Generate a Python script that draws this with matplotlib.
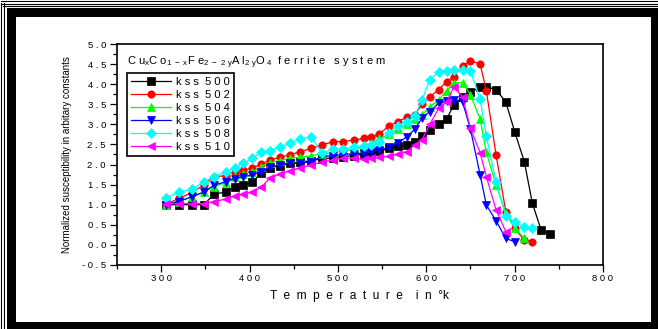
import matplotlib
matplotlib.use("Agg")
import matplotlib.pyplot as plt
from matplotlib.patches import Rectangle
from matplotlib.lines import Line2D
from matplotlib.ticker import MultipleLocator, FuncFormatter

plt.rcParams['font.family'] = ['Liberation Sans', 'DejaVu Sans']
plt.rcParams['mathtext.default'] = 'regular'

# temperature grid (K) shared by all samples
temp = [305, 320, 335, 348, 360, 373, 383, 393, 403, 413, 423, 434, 446, 457,
        470, 482, 495, 506, 518, 529, 538, 547, 558, 568, 578, 587, 595, 604,
        614, 623, 631, 641, 650, 661, 668, 679, 690, 700, 711, 720, 730, 740]

kss500 = [1.0, 1.0, 1.0, 1.0, 1.26, 1.32, 1.45, 1.49, 1.56, 1.78, 1.92, 1.97,
          2.03, 2.06, 2.10, 2.14, 2.17, 2.20, 2.22, 2.26, 2.30, 2.33, 2.40,
          2.46, 2.49, 2.57, 2.71, 2.86, 3.00, 3.13, 3.48, 3.69, 3.81, 3.92,
          3.94, 3.86, 3.56, 2.82, 2.07, 1.04, 0.37, 0.28]
kss502 = [1.0, 1.16, 1.30, 1.49, 1.70, 1.72, 1.82, 1.86, 1.91, 2.01, 2.11, 2.18,
          2.24, 2.32, 2.40, 2.49, 2.57, 2.57, 2.61, 2.65, 2.68, 2.76, 2.97,
          3.07, 3.18, 3.23, 3.50, 3.69, 3.86, 4.06, 4.19, 4.45, 4.58, 4.50,
          3.83, 2.24, 0.83, 0.41, 0.12, 0.08]
kss504 = [1.0, 1.08, 1.20, 1.32, 1.45, 1.55, 1.70, 1.76, 1.82, 1.95, 2.05, 2.10,
          2.16, 2.18, 2.22, 2.27, 2.30, 2.33, 2.38, 2.42, 2.53, 2.65, 2.75,
          2.88, 3.00, 3.13, 3.23, 3.44, 3.61, 3.84, 4.04, 4.04, 3.73, 3.13,
          2.30, 1.49, 0.80, 0.43, 0.16]
kss506 = [1.0, 1.08, 1.20, 1.31, 1.49, 1.57, 1.65, 1.70, 1.74, 1.82, 1.93, 1.99,
          2.03, 2.03, 2.07, 2.21, 2.21, 2.26, 2.26, 2.29, 2.32, 2.35, 2.44,
          2.54, 2.69, 2.88, 3.15, 3.32, 3.52, 3.59, 3.61, 3.56, 2.88, 1.74,
          0.99, 0.60, 0.16, 0.08]
kss508 = [1.16, 1.31, 1.38, 1.57, 1.70, 1.82, 1.91, 2.03, 2.16, 2.30, 2.34, 2.43,
          2.53, 2.64, 2.69, 2.28, 2.38, 2.38, 2.44, 2.46, 2.49, 2.57, 2.78,
          2.96, 3.07, 3.20, 3.60, 4.10, 4.31, 4.34, 4.35, 4.35, 4.34, 3.62,
          2.71, 1.56, 0.72, 0.57, 0.44, 0.41]
kss510 = [1.02, 1.03, 1.03, 1.03, 1.08, 1.14, 1.22, 1.26, 1.32, 1.43, 1.66, 1.76,
          1.85, 1.91, 1.99, 2.07, 2.11, 2.16, 2.16, 2.13, 2.16, 2.18, 2.21,
          2.25, 2.32, 2.49, 2.61, 3.00, 3.40, 3.56, 3.92, 3.69, 2.90, 2.29,
          1.70, 0.87, 0.33]

labels = ['k s s  5 0 0', 'k s s  5 0 2', 'k s s  5 0 4',
          'k s s  5 0 6', 'k s s  5 0 8', 'k s s  5 1 0']
series = [kss500, kss502, kss504, kss506, kss508, kss510]
colors = ['#000000', '#ff0000', '#00ff00', '#0000ff', '#00ffff', '#ff00ff']
markers = ['s', 'o', '^', 'v', 'D', '<']

W, H = 658, 329
fig = plt.figure(figsize=(W / 100, H / 100), dpi=100)

# decorative frame around the picture (pixel positions)
def band(x0, y0, x1, y1):
    fig.add_artist(Rectangle((x0 / W, 1 - y1 / H), (x1 - x0) / W, (y1 - y0) / H,
                             transform=fig.transFigure, color='black', lw=0))

band(7, 8, 651, 17)
band(7, 8, 16, 329)
band(651, 8, 658, 329)
band(7, 322, 658, 329)
for y in (0.7, 3.5, 6.0):
    fig.add_artist(Line2D([(1 if y < 5 else 3) / W, 1], [1 - y / H, 1 - y / H],
                          transform=fig.transFigure, color='black', lw=0.8))
for x in (0.7, 3.5):
    fig.add_artist(Line2D([x / W, x / W], [0, 1 - 3 / H],
                          transform=fig.transFigure, color='black', lw=0.8))

ax = fig.add_axes([117 / W, 1 - 265 / H, 486 / W, 221 / H])
for vals, lab, c, m in zip(series, labels, colors, markers):
    ax.plot(temp[:len(vals)], vals, color=c, marker=m, markersize=5.3, lw=0.9,
            markeredgewidth=0.5, markeredgecolor=c, label=lab)

ax.set_xlim(250, 800)
ax.set_ylim(-0.5, 5.0)
ax.xaxis.set_major_locator(MultipleLocator(100))
ax.xaxis.set_minor_locator(MultipleLocator(50))
ax.yaxis.set_major_locator(MultipleLocator(0.5))
ax.yaxis.set_minor_locator(MultipleLocator(0.25))
ax.xaxis.set_major_formatter(FuncFormatter(lambda v, p: ' '.join(f'{v:.0f}') if v >= 300 else ''))
ax.yaxis.set_major_formatter(FuncFormatter(lambda v, p: ' '.join(f'{v:.1f}')))
ax.tick_params(which='major', direction='out', length=5, width=0.9, labelsize=6.8, pad=3)
ax.tick_params(axis='x', which='major', pad=1.5)
ax.tick_params(which='minor', direction='out', length=3, width=0.9)
for s in ax.spines.values():
    s.set_linewidth(1.2)

ax.set_xlabel('T  e  m  p  e  r  a  t  u  r  e    i  n  °k', fontsize=8.6, labelpad=5)
ax.set_ylabel('Normalized susceptibility in arbitary constants', fontsize=7, labelpad=7)

ax.text(0.02, 0.95,
        r'C u$_{x}$C o$_{1\ -\ x}$F e$_{2\ -\ 2\ y}$A l$_{2\ y}$O$_{\ 4}$  f e r r i t e   s y s t e m',
        transform=ax.transAxes, fontsize=8, va='top', ha='left')

leg = ax.legend(loc='upper left', bbox_to_anchor=(0.02, 0.87), borderaxespad=0,
                fontsize=8, handlelength=3.6, labelspacing=0.28, fancybox=False,
                framealpha=1, edgecolor='black', borderpad=0.35, handletextpad=0.5)
leg.get_frame().set_linewidth(1.2)

fig.savefig('out.png', dpi=100)
